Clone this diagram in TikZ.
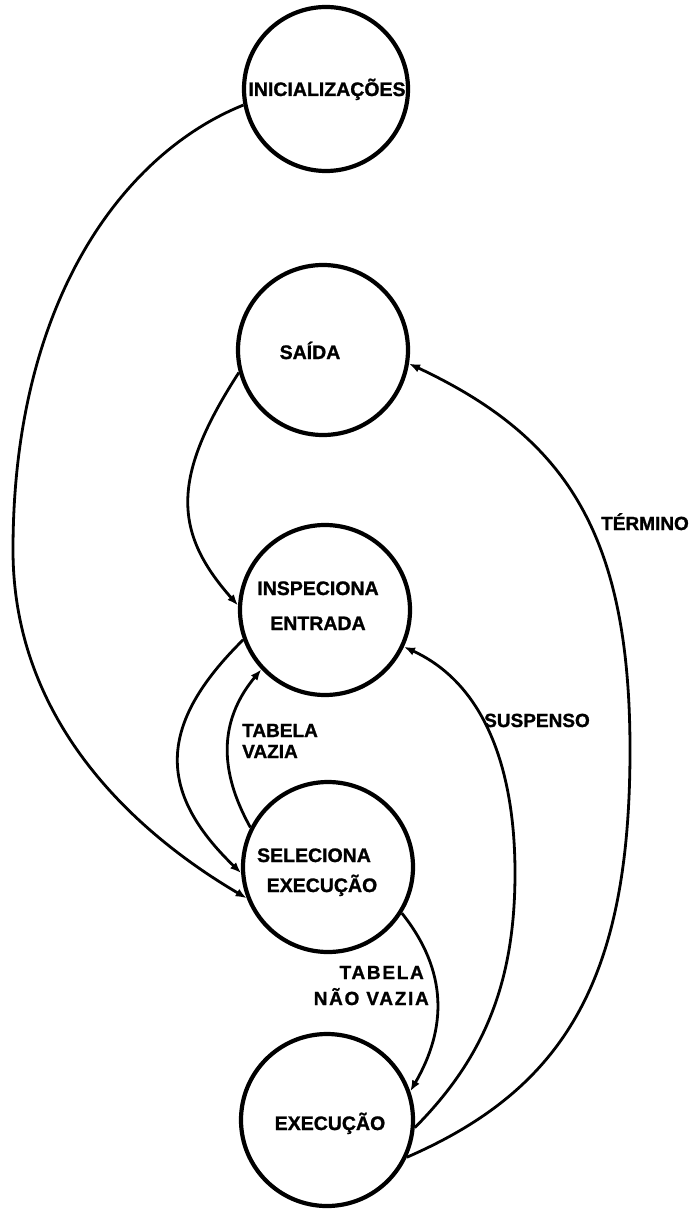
\documentclass[tikz,border=0pt]{standalone}
\usepackage{fontspec}
\setmainfont{Liberation Sans}[FakeBold=1.2]
\usetikzlibrary{arrows.meta}
\begin{document}
\begin{tikzpicture}[x=1pt,y=-1pt,
  state/.style={circle, draw, line width=4.2pt, inner sep=0pt},
  edge/.style={line width=2.8pt, -{Latex[length=11pt,width=8.5pt]}},
  lbl/.style={inner sep=0pt, text height=14pt, text depth=0pt,
              font=\fontsize{19.5}{20}\selectfont\bfseries},
  elbl/.style={inner sep=0pt, text height=14pt, text depth=0pt,
               font=\fontsize{19}{20}\selectfont\bfseries},
  spaced/.style={font=\fontsize{19}{20}\selectfont\bfseries\addfontfeature{LetterSpace=9}}]
\useasboundingbox (0,0) rectangle (693,1214);

% states
\node[state, minimum size=164pt] (ini) at (326,89) {};
\node[state, minimum size=170pt] (sai) at (323,350) {};
\node[state, minimum size=170pt] (ins) at (325,610) {};
\node[state, minimum size=170pt] (sel) at (328,867) {};
\node[state, minimum size=172pt] (exe) at (327,1120) {};

% state names
\node[lbl] (tIni)  at (327,89)   {INICIALIZAÇÕES};
\node[lbl] (tSai)  at (310,352)  {SAÍDA};
\node[lbl] (tIns1) at (318,588)  {INSPECIONA};
\node[lbl] (tIns2) at (318,623)  {ENTRADA};
\node[lbl] (tSel1) at (314,855)  {SELECIONA};
\node[lbl] (tSel2) at (322,885)  {EXECUÇÃO};
\node[lbl] (tExe)  at (330,1123) {EXECUÇÃO};

% transitions
\draw[edge] (ini.191) .. controls (124,153) and (13,300) .. (13,550)
                      .. controls (13,720) and (132.5,831) .. (sel.201);
\draw[edge] (sai.195) .. controls (172,476) and (172,531) .. (ins.177);
\draw[edge] (ins.200) .. controls (159,723) and (155,790) .. (sel.184);
\draw[edge] (sel.153) .. controls (228,787) and (210,731) .. (ins.223);
\draw[edge] (sel.328) .. controls (448,971) and (447,1028) .. (exe.19);
\draw[edge] (exe.355) .. controls (484,1058) and (515,983) .. (515,873)
                      .. controls (515,773) and (487,685) .. (ins.335);
\draw[edge] (exe.335) .. controls (564,1089) and (630,980) .. (630,750)
                      .. controls (630,530) and (563,436) .. (sai.351);

% transition labels
\node[elbl] (lTer) at (645,523) {TÉRMINO};
\node[elbl] (lSus) at (537,720) {SUSPENSO};
\node[elbl, anchor=west] (lVaz1) at (242,730) {TABELA};
\node[elbl, anchor=west] (lVaz2) at (242,751) {VAZIA};
\node[elbl, spaced, anchor=east] (lNv1) at (424,972) {TABELA};
\node[elbl, spaced, anchor=east] (lNv2) at (429,998) {NÃO VAZIA};
\end{tikzpicture}
\end{document}
